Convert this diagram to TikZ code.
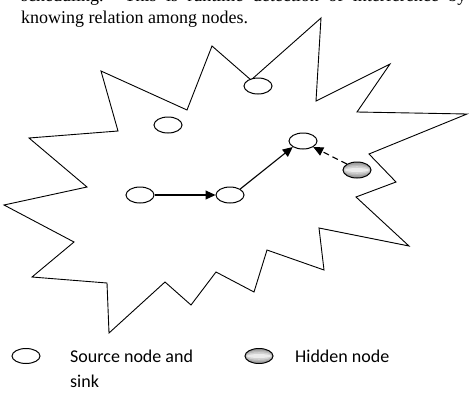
\documentclass[tikz,border=0pt]{standalone}
\usepackage{fontspec}
\setmainfont{Liberation Serif}
\newfontfamily\legendfont{Carlito}
\usetikzlibrary{arrows.meta,shapes.geometric}
\begin{document}
\begin{tikzpicture}[x=1pt,y=-1pt,
  nd/.style={draw,line width=1pt,ellipse,minimum width=28pt,minimum height=16pt,inner sep=0pt,fill=white},
  hid/.style={draw,line width=1pt,ellipse,minimum width=28pt,minimum height=16pt,inner sep=0pt,
              fill=gray!75,
              path picture={
                \fill[gray!55] (path picture bounding box.center) ellipse (14pt and 5.5pt);
                \fill[gray!35] (path picture bounding box.center) ellipse (13pt and 3.8pt);
                \fill[gray!15] (path picture bounding box.center) ellipse (12pt and 2pt);}},
  arr/.style={-{Triangle[length=10pt,width=9pt]},line width=1.1pt},
  body/.style={font=\fontsize{18}{20}\selectfont,anchor=base west,inner sep=0pt},
  leg/.style={font=\legendfont\fontsize{18}{22}\selectfont,anchor=base west,inner sep=0pt}]
\useasboundingbox (0,0) rectangle (471,402);
\clip (0,0) rectangle (471,402);
% header text
\node[body] (t1) at (21,1) {\makebox[445pt][s]{scheduling. This is runtime detection of interference by}};
\node[body] (t2) at (21,23) {knowing relation among nodes.};
% star-shaped region
\draw[line width=0.9pt,line join=miter]
 (321,18) -- (316,101) -- (390,64) -- (357,112) -- (467,114) -- (369,154)
 -- (396,182) -- (356,197) -- (409,246) -- (319,228) -- (324,270) -- (267,250)
 -- (254,292) -- (216,272) -- (191,305) -- (165,282) -- (109,333) -- (107,283)
 -- (32,277) -- (74,242) -- (4,205) -- (87,187) -- (29,138) -- (118,131)
 -- (101,71) -- (187,110) -- (212,46) -- (251,80) -- cycle;
% nodes
\node[nd] (n1) at (258,86) {};
\node[nd] (n2) at (168,125) {};
\node[nd] (n3) at (303,141) {};
\node[hid] (h) at (357,170) {};
\node[nd] (s) at (140,195) {};
\node[nd] (m) at (230,195) {};
% connectors
\draw[arr] (s) -- (m);
\draw[arr] (m.north east) -- (n3.south west);
\draw[arr,dash pattern=on 6pt off 4pt] (h.north west) -- (n3.south east);
% legend
\node[nd,minimum height=15pt] (l1) at (26,356) {};
\node[leg] (lt1) at (70,362) {Source node and};
\node[leg] (lt2) at (70,387) {sink};
\node[hid,minimum height=15pt] (l2) at (259,356) {};
\node[leg] (lt3) at (295,362) {Hidden node};
\end{tikzpicture}
\end{document}
